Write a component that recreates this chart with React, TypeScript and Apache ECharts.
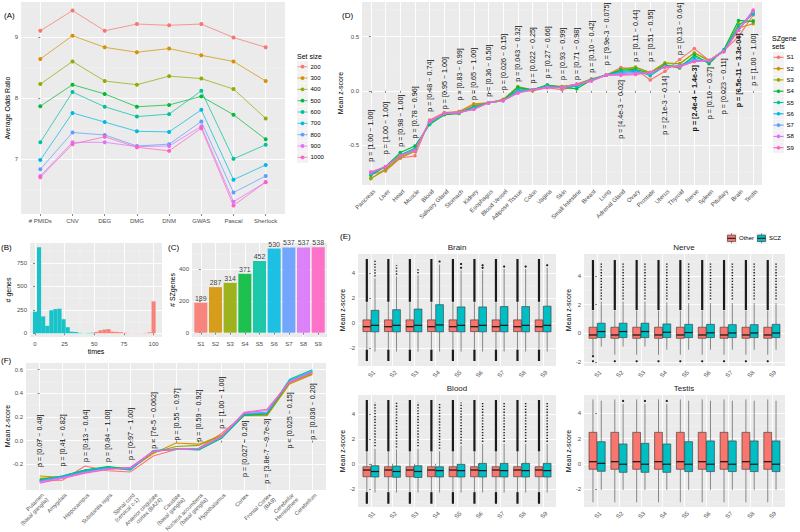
import React, { useEffect, useRef } from 'react';
import * as echarts from 'echarts';

const FONT = '"Liberation Sans", Arial, Helvetica, sans-serif';
const TICK = '#4D4D4D';
const BG = '#EBEBEB';
const HUE9 = ['#F8766D', '#D39200', '#93AA00', '#00BA38', '#00C19F', '#00B9E3', '#619CFF', '#DB72FB', '#FF61C3'];
const RED = '#F8766D';
const TEAL = '#00BFC4';

// ---------------- Panel A ----------------
const aMethods = ['# PMIDs', 'CNV', 'DEG', 'DMG', 'DNM', 'GWAS', 'Pascal', 'Sherlock'];
const aSetSizes = ['200', '300', '400', '500', '600', '700', '800', '900', '1000'];
const aOR200 = [9.10, 9.43, 9.10, 9.21, 9.19, 9.21, 8.99, 8.83];
const aOR300 = [8.64, 9.02, 8.83, 8.75, 8.81, 8.70, 8.60, 8.28];
const aOR400 = [8.23, 8.60, 8.28, 8.22, 8.36, 8.32, 8.15, 7.67];
const aOR500 = [7.87, 8.22, 8.07, 7.86, 7.89, 8.03, 7.73, 7.33];
const aOR600 = [7.28, 8.10, 7.86, 7.70, 7.74, 8.12, 7.01, 7.24];
const aOR700 = [6.99, 7.76, 7.61, 7.46, 7.45, 7.81, 6.67, 6.91];
const aOR800 = [6.84, 7.44, 7.40, 7.22, 7.25, 7.62, 6.46, 6.73];
const aOR900 = [6.73, 7.28, 7.28, 7.21, 7.22, 7.54, 6.31, 6.63];
const aOR1000 = [6.71, 7.25, 7.37, 7.20, 7.14, 7.51, 6.25, 6.63];
const aSeries = [aOR200, aOR300, aOR400, aOR500, aOR600, aOR700, aOR800, aOR900, aOR1000];

// ---------------- Panel B ----------------
const bBinWidth = 100 / 29;
const bCountsLow = [230, 915, 180, 80, 245, 258, 262, 150, 65, 18, 14, 5, 2, 4, 6]; // bins 0..14
const bCountsHigh = [14, 32, 40, 45, 18, 15, 12, 6, 3, 2, 3, 2, 4, 10, 340]; // bins 15..29

// ---------------- Panel C ----------------
const cSets = ['S1', 'S2', 'S3', 'S4', 'S5', 'S6', 'S7', 'S8', 'S9'];
const cCounts = [189, 287, 314, 371, 452, 530, 537, 537, 538];

// ---------------- Panel D ----------------
const dTissues = ['Pancreas', 'Liver', 'Heart', 'Muscle', 'Blood', 'Salivary Gland', 'Stomach', 'Kidney', 'Esophagus',
  'Blood Vessel', 'Adipose Tissue', 'Colon', 'Vagina', 'Skin', 'Small Intestine', 'Breast', 'Lung', 'Adrenal Gland',
  'Ovary', 'Prostate', 'Uterus', 'Thyroid', 'Nerve', 'Spleen', 'Pituitary', 'Brain', 'Testis'];
const dS1 = [-0.77, -0.74, -0.62, -0.60, -0.27, -0.20, -0.19, -0.13, -0.11, -0.08, 0.00, 0.00, 0.03, 0.01, 0.05, 0.10, 0.145, 0.215, 0.20, 0.10, 0.18, 0.29, 0.39, 0.28, 0.37, 0.50, 0.70];
const dS2 = [-0.81, -0.73, -0.62, -0.56, -0.28, -0.21, -0.19, -0.12, -0.11, -0.08, 0.03, 0.00, 0.05, 0.04, 0.06, 0.11, 0.145, 0.20, 0.21, 0.17, 0.25, 0.25, 0.35, 0.28, 0.37, 0.58, 0.62];
const dS3 = [-0.81, -0.72, -0.61, -0.55, -0.29, -0.21, -0.20, -0.14, -0.11, -0.08, 0.04, 0.01, 0.05, 0.04, 0.06, 0.11, 0.145, 0.20, 0.22, 0.17, 0.26, 0.25, 0.35, 0.28, 0.37, 0.62, 0.65];
const dS4 = [-0.78, -0.70, -0.57, -0.51, -0.31, -0.22, -0.21, -0.15, -0.11, -0.09, 0.03, 0.01, 0.055, 0.03, 0.02, 0.10, 0.145, 0.19, 0.20, 0.16, 0.24, 0.21, 0.33, 0.25, 0.38, 0.65, 0.64];
const dS5 = [-0.77, -0.70, -0.59, -0.53, -0.30, -0.21, -0.20, -0.15, -0.11, -0.09, 0.01, 0.01, 0.05, 0.03, 0.04, 0.10, 0.145, 0.18, 0.19, 0.14, 0.23, 0.23, 0.31, 0.27, 0.37, 0.60, 0.71];
const dS6 = [-0.76, -0.70, -0.60, -0.54, -0.29, -0.21, -0.20, -0.16, -0.11, -0.09, 0.00, 0.01, 0.04, 0.03, 0.05, 0.10, 0.145, 0.17, 0.18, 0.16, 0.22, 0.23, 0.29, 0.27, 0.37, 0.57, 0.72];
const dS7 = [-0.76, -0.70, -0.60, -0.55, -0.29, -0.21, -0.20, -0.17, -0.11, -0.09, -0.01, 0.01, 0.035, 0.03, 0.06, 0.10, 0.145, 0.16, 0.17, 0.16, 0.22, 0.23, 0.28, 0.28, 0.37, 0.56, 0.73];
const dS8 = [-0.75, -0.70, -0.60, -0.55, -0.28, -0.21, -0.20, -0.17, -0.11, -0.09, -0.02, 0.01, 0.03, 0.03, 0.06, 0.09, 0.145, 0.15, 0.16, 0.17, 0.22, 0.23, 0.27, 0.28, 0.36, 0.56, 0.74];
const dS9 = [-0.75, -0.70, -0.60, -0.55, -0.28, -0.21, -0.20, -0.17, -0.11, -0.09, -0.02, 0.01, 0.03, 0.03, 0.06, 0.09, 0.145, 0.145, 0.15, 0.17, 0.22, 0.22, 0.27, 0.28, 0.36, 0.56, 0.745];
const dSeries = [dS1, dS2, dS3, dS4, dS5, dS6, dS7, dS8, dS9];
const dPText = ['p = [1.00 ~ 1.00]', 'p = [1.00 ~ 1.00]', 'p = [0.98 ~ 1.00]', 'p = [0.78 ~ 0.96]', 'p = [0.48 ~ 0.74]',
  'p = [0.95 ~ 1.00]', 'p = [0.83 ~ 0.99]', 'p = [0.65 ~ 1.00]', 'p = [0.36 ~ 0.50]', 'p = [0.026 ~ 0.15]',
  'p = [0.043 ~ 0.32]', 'p = [0.022 ~ 0.25]', 'p = [0.27 ~ 0.66]', 'p = [0.93 ~ 0.99]', 'p = [0.71 ~ 0.98]',
  'p = [0.10 ~ 0.42]', 'p = [9.9e-3 ~ 0.075]', 'p = [4.4e-3 ~ 0.02]', 'p = [0.11 ~ 0.44]', 'p = [0.51 ~ 0.95]',
  'p = [2.1e-3 ~ 0.14]', 'p = [0.13 ~ 0.64]', 'p = [2.4e-4 ~ 1.4e-3]', 'p = [0.10 ~ 0.37]', 'p = [0.023 ~ 0.11]',
  'p = [6.5e-11 ~ 3.3e-04]', 'p = [1.00 ~ 1.00]'];
const dPY = [-0.655, -0.585, -0.517, -0.44, -0.194, -0.17, -0.09, -0.085, -0.055, 0.006, 0.083, 0.068, 0.114, 0.099,
  0.10, 0.166, 0.237, 0.099, 0.268, 0.268, 0.136, 0.33, 0.237, 0.22, 0.30, 0.53, 0.53];
const dPUp = [1, 1, 1, 1, 1, 1, 1, 1, 1, 1, 1, 1, 1, 1, 1, 1, 1, 0, 1, 1, 0, 1, 0, 0, 0, 0, 0];
const dPBold = [22, 25];

// ---------------- Panel E ----------------
// box rows: [lower whisker, Q1, median, Q3, upper whisker]
const brainOther = [-2.1, -0.7, -0.31, 0.235, 1.64];
const brainOtherOutLow = [-3.05, -2.14];
const brainOtherOutHigh = [1.68, 5.1];
const brainSczQ1 = [-0.72, -0.72, -0.72, -0.72, -0.72, -0.72, -0.72, -0.72, -0.72];
const brainSczMed = [-0.2, -0.2, -0.2, -0.17, -0.2, -0.2, -0.2, -0.2, -0.2];
const brainSczQ3 = [1.0, 1.05, 1.1, 1.45, 1.27, 1.27, 1.3, 1.3, 1.33];
const brainSczLow = [-2.3, -2.3, -2.3, -2.3, -2.3, -2.3, -2.3, -2.3, -2.3];
const brainSczHigh = [3.55, 3.7, 3.8, 4.65, 4.2, 4.2, 4.3, 4.3, 4.4];
const brainSczOutBand: (number[] | null)[] = [[3.7, 5.0], [3.85, 4.6], [3.95, 4.3], null, null, null, null, null, null];
const brainSczOutPts = [[], [], [], [4.9], [4.4, 4.7], [4.4, 4.6], [4.5], [4.5], [4.6]];

const nerveOther = [-1.5, -0.35, -0.12, 0.42, 1.58];
const nerveOtherOutHigh = [1.62, 5.1];
const nerveOtherOutPts = [[-1.6, -1.95], [-1.95], [-1.95], [-1.95], [-1.95], [-1.95], [-1.95], [-1.95], [-1.95]];
const nerveSczQ1 = [-0.3, -0.3, -0.3, -0.3, -0.3, -0.3, -0.3, -0.3, -0.3];
const nerveSczMed = [0.12, 0.12, 0.12, 0.07, 0.05, 0.03, 0.02, 0.02, 0.02];
const nerveSczQ3 = [0.70, 0.70, 0.70, 0.65, 0.62, 0.62, 0.60, 0.60, 0.62];
const nerveSczLow = [-0.93, -0.93, -0.93, -1.15, -1.15, -1.15, -1.15, -1.15, -1.15];
const nerveSczHigh = [2.2, 2.2, 2.2, 2.15, 2.1, 2.1, 2.1, 2.1, 2.1];
const nerveSczOutBand = [2.35, 4.95];

const bloodOther = [-2.24, -1.04, -0.5, -0.24, 0.96];
const bloodOtherOutLow = [-3.2, -2.27];
const bloodOtherOutHigh = [0.99, 5.1];
const bloodSczQ1 = [-1.06, -1.08, -1.1, -1.06, -1.06, -1.06, -1.06, -1.06, -1.06];
const bloodSczMed = [-0.62, -0.62, -0.62, -0.55, -0.55, -0.55, -0.55, -0.55, -0.55];
const bloodSczQ3 = [-0.16, -0.19, -0.16, -0.24, -0.05, 0.03, 0.03, 0.03, 0.03];
const bloodSczLow = [-2.3, -2.3, -2.3, -2.3, -2.3, -2.3, -2.3, -2.3, -2.3];
const bloodSczHigh = [1.2, 1.15, 1.2, 1.0, 1.45, 1.6, 1.6, 1.6, 1.6];
const bloodSczOutBand = [[1.4, 4.9], [1.3, 4.9], [1.4, 4.9], [1.2, 4.9], [1.6, 4.9], [1.75, 4.9], [1.75, 4.9], [1.75, 4.9], [1.75, 4.9]];

const testisOther = [-3.03, -0.42, 0.18, 2.5, 5.1];
const testisSczQ1 = [-0.58, -0.66, -0.66, -0.66, -0.6, -0.6, -0.6, -0.6, -0.6];
const testisSczMed = [0.05, -0.02, -0.02, -0.02, -0.02, -0.02, -0.02, -0.02, -0.02];
const testisSczQ3 = [1.76, 1.58, 1.63, 1.58, 1.76, 1.82, 1.82, 1.82, 1.82];
const testisSczLow = [-2.05, -2.05, -2.05, -2.05, -2.05, -2.05, -2.05, -2.05, -2.05];
const testisSczHigh = [5.0, 4.75, 4.75, 4.75, 5.0, 5.0, 5.0, 5.0, 5.0];
const testisSczOutPts = [[], [4.98], [4.98], [4.98], [], [], [], [], []];

// ---------------- Panel F ----------------
const fRegions = ['Putamen\n(basal ganglia)', 'Amygdala', 'Hippocampus', 'Substantia nigra', 'Spinal cord\n(cervical c-1)',
  'Anterior cingulate\ncortex (BA24)', 'Caudate\n(basal ganglia)', 'Nucleus accumbens\n(basal ganglia)', 'Hypothalamus',
  'Cortex', 'Frontal Cortex\n(BA9)', 'Cerebellar\nHemisphere', 'Cerebellum'];
const fS1 = [-0.34, -0.335, -0.215, -0.255, -0.265, -0.13, -0.075, -0.065, 0.06, 0.22, 0.22, 0.49, 0.57];
const fS2 = [-0.30, -0.31, -0.25, -0.235, -0.24, -0.11, -0.02, -0.03, 0.045, 0.21, 0.21, 0.48, 0.56];
const fS3 = [-0.32, -0.31, -0.25, -0.225, -0.235, -0.10, -0.05, -0.04, 0.04, 0.215, 0.215, 0.49, 0.565];
const fS4 = [-0.33, -0.30, -0.25, -0.22, -0.24, -0.09, -0.07, -0.08, 0.02, 0.215, 0.225, 0.50, 0.58];
const fS5 = [-0.335, -0.30, -0.25, -0.225, -0.25, -0.085, -0.075, -0.075, 0.02, 0.22, 0.23, 0.52, 0.60];
const fS6 = [-0.34, -0.305, -0.26, -0.23, -0.245, -0.085, -0.075, -0.07, 0.03, 0.225, 0.235, 0.51, 0.59];
const fS7 = [-0.345, -0.31, -0.265, -0.235, -0.24, -0.09, -0.075, -0.07, 0.03, 0.23, 0.24, 0.505, 0.585];
const fS8 = [-0.35, -0.315, -0.27, -0.24, -0.23, -0.09, -0.075, -0.065, 0.035, 0.235, 0.255, 0.50, 0.58];
const fS9 = [-0.36, -0.32, -0.275, -0.245, -0.225, -0.09, -0.075, -0.065, 0.035, 0.24, 0.265, 0.495, 0.575];
const fSeries = [fS1, fS2, fS3, fS4, fS5, fS6, fS7, fS8, fS9];
const fPText = ['p = [0.07 ~ 0.48]', 'p = [0.41 ~ 0.82]', 'p = [0.13 ~ 0.64]', 'p = [0.94 ~ 1.00]', 'p = [0.97 ~ 1.00]',
  'p = [7e-5 ~ 0.062]', 'p = [0.55 ~ 0.97]', 'p = [0.59 ~ 0.92]', 'p = [1.00 ~ 1.00]', 'p = [0.027 ~ 0.26]',
  'p = [3.8e-7 ~ 9.7e-3]', 'p = [0.025 ~ 0.15]', 'p = [0.036 ~ 0.20]'];
const fPY = [-0.223, -0.22, -0.18, -0.18, -0.165, -0.068, 0.0, -0.01, 0.10, 0.17, 0.186, 0.41, 0.485];
const fPUp = [1, 1, 1, 1, 1, 1, 1, 1, 1, 0, 0, 0, 0];

// ------------------------------------------------
const idx = (n: number) => Array.from({ length: n }, (_, i) => i);

type Box = { s: number; g: number; v: number[]; bands: number[][]; dotted: boolean; pts: number[] };

function buildOption() {
  const xAxes: any[] = [];
  const yAxes: any[] = [];

  function addAxis(list: any[], kind: 'x' | 'y', grid: number, min: number, max: number, majors: number[], minors: number[],
    fmt: (v: number) => string, extra: any = {}) {
    const id = list.length;
    list.push({
      type: 'value', gridIndex: grid, min, max, position: kind === 'x' ? 'bottom' : 'left',
      axisLine: { show: false },
      axisTick: { show: true, length: 2, lineStyle: { color: '#333333', width: 0.6 }, customValues: majors },
      axisLabel: { show: true, customValues: majors, formatter: (v: number) => fmt(v), fontSize: 6, color: TICK,
        fontFamily: FONT, margin: 3, ...extra },
      splitLine: { show: true, lineStyle: { color: '#FFFFFF', width: 0.9 } },
    });
    if (minors.length) {
      list.push({
        type: 'value', gridIndex: grid, min, max, position: kind === 'x' ? 'top' : 'right',
        axisLine: { show: false },
        axisTick: { show: false, customValues: minors },
        axisLabel: { show: false, customValues: minors },
        splitLine: { show: true, lineStyle: { color: '#F7F7F7', width: 0.45 } },
      });
    }
    return id;
  }
  const disc = (grid: number, labels: string[], extra: any = {}) =>
    addAxis(xAxes, 'x', grid, -0.6, labels.length - 0.4, idx(labels.length), [], (v) => labels[Math.round(v)] ?? '', extra);
  const num = (v: number) => String(v);
  const f1 = (v: number) => v.toFixed(1);

  const grids = [
    { left: 21, top: 2, width: 264, height: 212 },
    { left: 30, top: 243, width: 132, height: 94 },
    { left: 192, top: 243, width: 135, height: 94 },
    { left: 362, top: 2, width: 400, height: 183 },
    { left: 358, top: 254, width: 198, height: 112 },
    { left: 584, top: 254, width: 201, height: 112 },
    { left: 358, top: 395, width: 198, height: 112 },
    { left: 584, top: 395, width: 201, height: 112 },
    { left: 26, top: 363, width: 300, height: 127 },
  ].map((g) => ({ ...g, show: true, backgroundColor: BG, borderWidth: 0, containLabel: false, outerBoundsMode: 'none' }));

  const hid = { show: false };
  // axes
  const axAx = disc(0, aMethods, { margin: 4 });
  const axAy = addAxis(yAxes, 'y', 0, 6.11, 9.57, [7, 8, 9], [6.5, 7.5, 8.5, 9.5], num);
  const axBx = addAxis(xAxes, 'x', 1, -4.2, 107.1, [0, 25, 50, 75, 100], [12.5, 37.5, 62.5, 87.5], num, { margin: 4 });
  const axBy = addAxis(yAxes, 'y', 1, -39, 960, [0, 250, 500, 750], [125, 375, 625, 875], num);
  const axCx = disc(2, cSets, { margin: 4 });
  const axCy = addAxis(yAxes, 'y', 2, -27, 565, [0, 200, 400], [100, 300, 500], num);
  const axDx = disc(3, dTissues, hid);
  const dMin = -0.869;
  const axDy = addAxis(yAxes, 'y', 3, dMin, 0.82, [-0.5, 0, 0.5], [-0.75, -0.25, 0.25, 0.75], f1);
  const eRanges = [[-3.45, 5.5], [-2.28, 5.52], [-3.46, 5.5], [-3.4, 5.45]];
  const eMinors = [[-3, -1, 1, 3, 5], [-1, 1, 3, 5], [-3, -1, 1, 3, 5], [-3, -1, 1, 3, 5]];
  const axEx: number[] = [];
  const axEy: number[] = [];
  for (let k = 0; k < 4; k++) {
    axEx.push(disc(4 + k, cSets, hid));
    axEy.push(addAxis(yAxes, 'y', 4 + k, eRanges[k][0], eRanges[k][1], [-2, 0, 2, 4], eMinors[k], num));
  }
  const axFx = disc(8, fRegions, hid);
  const fMin = -0.418;
  const axFy = addAxis(yAxes, 'y', 8, fMin, 0.657, [-0.2, 0, 0.2, 0.4, 0.6], [-0.3, -0.1, 0.1, 0.3, 0.5], f1);

  const series: any[] = [];

  // rotated tick labels (45 degrees), anchored at the tick positions of the axis
  const rotLabels = (xi: number, yi: number, labels: string[], yMin: number, fs = 6, dy = 3, lh = 6.8) => ({
    type: 'custom', xAxisIndex: xi, yAxisIndex: yi, silent: true, clip: false,
    data: labels.map((_, i) => [i, yMin]),
    renderItem: (params: any, api: any) => {
      const p = api.coord([api.value(0), api.value(1)]);
      return {
        type: 'text', x: p[0] + 1, y: p[1] + dy, rotation: Math.PI / 4,
        style: { text: labels[params.dataIndex], align: 'right', verticalAlign: 'top', fontSize: fs, fill: TICK,
          fontFamily: FONT, lineHeight: lh },
      };
    },
  });

  // A lines
  aSeries.forEach((vals, i) => {
    series.push({
      type: 'line', name: aSetSizes[i], xAxisIndex: axAx, yAxisIndex: axAy, silent: true,
      data: vals.map((v, j) => [j, v]), symbol: 'circle', symbolSize: 4, showSymbol: true,
      lineStyle: { width: 0.9, color: HUE9[i], opacity: 0.8 }, itemStyle: { color: HUE9[i] },
    });
  });

  // B histogram
  const histSeries = (counts: number[], offset: number, color: string) => ({
    type: 'custom', xAxisIndex: axBx, yAxisIndex: axBy, silent: true,
    data: counts.map((c, k) => [(k + offset) * bBinWidth, c]),
    renderItem: (params: any, api: any) => {
      const c = api.value(0);
      const h = api.value(1);
      const p0 = api.coord([c - bBinWidth / 2, h]);
      const p1 = api.coord([c + bBinWidth / 2, 0]);
      return { type: 'rect', shape: { x: p0[0], y: p0[1], width: p1[0] - p0[0], height: p1[1] - p0[1] },
        style: { fill: color, opacity: 0.9 } };
    },
  });
  series.push(histSeries(bCountsLow, 0, TEAL));
  series.push(histSeries(bCountsHigh, 15, RED));

  // C bars
  series.push({
    type: 'bar', xAxisIndex: axCx, yAxisIndex: axCy, silent: true, barWidth: 13,
    data: cCounts.map((v, j) => ({ value: [j, v], itemStyle: { color: HUE9[j], opacity: 0.88 } })),
    label: { show: true, position: 'top', distance: 1, fontSize: 7, color: '#222', fontFamily: FONT,
      formatter: (p: any) => String(p.value[1]) },
  });

  // D lines
  dSeries.forEach((vals, i) => {
    series.push({
      type: 'line', name: cSets[i], xAxisIndex: axDx, yAxisIndex: axDy, silent: true,
      data: vals.map((v, j) => [j, v]), symbol: 'circle', symbolSize: 3.5,
      lineStyle: { width: 1.1, color: HUE9[i] }, itemStyle: { color: HUE9[i] },
    });
  });
  series.push(rotLabels(axDx, axDy, dTissues, dMin));

  const pSeries = (xi: number, yi: number, texts: string[], ys: number[], up: number[], bold: number[]) => ({
    type: 'custom', xAxisIndex: xi, yAxisIndex: yi, silent: true, z: 6,
    data: ys.map((y, i) => [i, y]),
    renderItem: (params: any, api: any) => {
      const i = params.dataIndex;
      const p = api.coord([api.value(0), api.value(1)]);
      return {
        type: 'text', x: p[0], y: p[1], rotation: Math.PI / 2,
        style: { text: texts[i], align: up[i] ? 'left' : 'right', verticalAlign: 'middle', fontSize: 7.2,
          fontFamily: FONT, fill: '#111', fontWeight: bold.includes(i) ? 'bold' : 'normal' },
      };
    },
  });
  series.push(pSeries(axDx, axDy, dPText, dPY, dPUp, dPBold));

  // E boxes
  const boxSeries = (xi: number, yi: number, boxes: Box[]) => ({
    type: 'custom', xAxisIndex: xi, yAxisIndex: yi, silent: true,
    data: boxes.map((b) => [b.s + (b.g ? 0.19 : -0.19), ...b.v]),
    renderItem: (params: any, api: any) => {
      const b = boxes[params.dataIndex];
      const cx = api.value(0);
      const lw = api.value(1), q1 = api.value(2), md = api.value(3), q3 = api.value(4), hw = api.value(5);
      const half = 0.18;
      const c = (x: number, y: number) => api.coord([x, y]);
      const ch: any[] = [];
      const wStyle = { stroke: '#444', lineWidth: 0.6 };
      const a = c(cx, lw), pq1 = c(cx, q1), pq3 = c(cx, q3), ph = c(cx, hw);
      ch.push({ type: 'line', shape: { x1: a[0], y1: a[1], x2: pq1[0], y2: pq1[1] }, style: wStyle });
      ch.push({ type: 'line', shape: { x1: pq3[0], y1: pq3[1], x2: ph[0], y2: ph[1] }, style: wStyle });
      b.bands.forEach((bd) => {
        const u = c(cx, bd[0]), w = c(cx, bd[1]);
        ch.push({ type: 'line', shape: { x1: u[0], y1: u[1], x2: w[0], y2: w[1] },
          style: b.dotted ? { stroke: '#222', lineWidth: 1.5, lineDash: [1.3, 1.6] } : { stroke: '#1a1a1a', lineWidth: 2.2 } });
      });
      b.pts.forEach((pv) => {
        const q = c(cx, pv);
        ch.push({ type: 'circle', shape: { cx: q[0], cy: q[1], r: 1.1 }, style: { fill: '#1a1a1a' } });
      });
      const tl = c(cx - half, q3), br = c(cx + half, q1);
      ch.push({ type: 'rect', shape: { x: tl[0], y: tl[1], width: br[0] - tl[0], height: br[1] - tl[1] },
        style: { fill: b.g ? TEAL : RED, stroke: '#333', lineWidth: 0.6 } });
      const ml = c(cx - half, md), mr = c(cx + half, md);
      ch.push({ type: 'line', shape: { x1: ml[0], y1: ml[1], x2: mr[0], y2: mr[1] }, style: { stroke: '#111', lineWidth: 1.2 } });
      return { type: 'group', children: ch };
    },
  });

  const mk = (s: number, g: number, v: number[], bands: (number[] | null)[], dotted: boolean, pts: number[]): Box =>
    ({ s, g, v, bands: bands.filter((x) => !!x) as number[][], dotted, pts });

  const brainBoxes: Box[] = [];
  const nerveBoxes: Box[] = [];
  const bloodBoxes: Box[] = [];
  const testisBoxes: Box[] = [];
  for (let s = 0; s < 9; s++) {
    brainBoxes.push(mk(s, 0, brainOther, [brainOtherOutLow, brainOtherOutHigh], false, []));
    brainBoxes.push(mk(s, 1, [brainSczLow[s], brainSczQ1[s], brainSczMed[s], brainSczQ3[s], brainSczHigh[s]],
      [brainSczOutBand[s]], true, brainSczOutPts[s]));
    nerveBoxes.push(mk(s, 0, nerveOther, [nerveOtherOutHigh], false, nerveOtherOutPts[s]));
    nerveBoxes.push(mk(s, 1, [nerveSczLow[s], nerveSczQ1[s], nerveSczMed[s], nerveSczQ3[s], nerveSczHigh[s]],
      [nerveSczOutBand], true, []));
    bloodBoxes.push(mk(s, 0, bloodOther, [bloodOtherOutLow, bloodOtherOutHigh], false, []));
    bloodBoxes.push(mk(s, 1, [bloodSczLow[s], bloodSczQ1[s], bloodSczMed[s], bloodSczQ3[s], bloodSczHigh[s]],
      [bloodSczOutBand[s]], true, []));
    testisBoxes.push(mk(s, 0, testisOther, [], false, []));
    testisBoxes.push(mk(s, 1, [testisSczLow[s], testisSczQ1[s], testisSczMed[s], testisSczQ3[s], testisSczHigh[s]],
      [], false, testisSczOutPts[s]));
  }
  const allBoxes = [brainBoxes, nerveBoxes, bloodBoxes, testisBoxes];
  for (let k = 0; k < 4; k++) {
    series.push(boxSeries(axEx[k], axEy[k], allBoxes[k]));
    series.push(rotLabels(axEx[k], axEy[k], cSets, eRanges[k][0]));
  }

  // F lines
  fSeries.forEach((vals, i) => {
    series.push({
      type: 'line', name: cSets[i], xAxisIndex: axFx, yAxisIndex: axFy, silent: true,
      data: vals.map((v, j) => [j, v]), symbol: 'none', lineStyle: { width: 1.1, color: HUE9[i] },
    });
  });
  series.push(pSeries(axFx, axFy, fPText, fPY, fPUp, []));
  series.push(rotLabels(axFx, axFy, fRegions, fMin, 5.6, 2, 6.2));

  // graphics
  const T = (x: number, y: number, text: string, o: any = {}) => ({
    type: 'text', x, y, rotation: o.rot ? Math.PI / 2 : 0, silent: true,
    style: { text, fontSize: o.fs ?? 7, fill: o.fill ?? '#000', fontFamily: FONT, align: o.align ?? 'left',
      verticalAlign: 'middle', fontWeight: o.fw ?? 'normal' },
  });
  const g: any[] = [];
  g.push(T(4, 15, '(A)', { fs: 8 }));
  g.push(T(1, 247, '(B)', { fs: 8 }));
  g.push(T(168, 247, '(C)', { fs: 8 }));
  g.push(T(342, 15, '(D)', { fs: 8 }));
  g.push(T(340, 236, '(E)', { fs: 8 }));
  g.push(T(1, 360, '(F)', { fs: 8 }));
  g.push(T(7, 108, 'Average Odds Ratio', { rot: 1, align: 'center' }));
  g.push(T(8, 290, '# genes', { rot: 1, align: 'center' }));
  g.push(T(96, 351, 'times', { align: 'center' }));
  g.push(T(172, 290, '# SZgenes', { rot: 1, align: 'center' }));
  g.push(T(340, 93, 'Mean z-score', { rot: 1, align: 'center' }));
  g.push(T(342, 310, 'Mean z-score', { rot: 1, align: 'center' }));
  g.push(T(342, 451, 'Mean z-score', { rot: 1, align: 'center' }));
  g.push(T(568, 310, 'Mean z-score', { rot: 1, align: 'center' }));
  g.push(T(568, 451, 'Mean z-score', { rot: 1, align: 'center' }));
  g.push(T(7, 426, 'Mean z-score', { rot: 1, align: 'center' }));
  g.push(T(457, 247.5, 'Brain', { fs: 8, align: 'center', fill: '#1a1a1a' }));
  g.push(T(684, 247.5, 'Nerve', { fs: 8, align: 'center', fill: '#1a1a1a' }));
  g.push(T(457, 388, 'Blood', { fs: 8, align: 'center', fill: '#1a1a1a' }));
  g.push(T(684, 388, 'Testis', { fs: 8, align: 'center', fill: '#1a1a1a' }));

  // legend A
  g.push(T(297, 56, 'Set size', { fs: 7 }));
  aSetSizes.forEach((lab, i) => {
    const y = 66.7 + i * 11.33;
    g.push({ type: 'rect', shape: { x: 297, y: y - 5.5, width: 11, height: 11 }, style: { fill: '#F2F2F2' }, silent: true });
    g.push({ type: 'line', shape: { x1: 297.5, y1: y, x2: 307.5, y2: y }, style: { stroke: HUE9[i], lineWidth: 0.9, opacity: 0.8 }, silent: true });
    g.push({ type: 'circle', shape: { cx: 302.5, cy: y, r: 1.9 }, style: { fill: HUE9[i] }, silent: true });
    g.push(T(310.5, y, lab, { fs: 6 }));
  });
  // legend D
  g.push(T(772, 38, 'SZgene', { fs: 7 }));
  g.push(T(772, 46.5, 'sets', { fs: 7 }));
  cSets.forEach((lab, i) => {
    const y = 57.3 + i * 11.3;
    g.push({ type: 'rect', shape: { x: 773, y: y - 5.5, width: 11, height: 11 }, style: { fill: '#F2F2F2' }, silent: true });
    g.push({ type: 'line', shape: { x1: 773.5, y1: y, x2: 783.5, y2: y }, style: { stroke: HUE9[i], lineWidth: 1.1 }, silent: true });
    g.push({ type: 'circle', shape: { cx: 778.5, cy: y, r: 1.8 }, style: { fill: HUE9[i] }, silent: true });
    g.push(T(786.5, y, lab, { fs: 6 }));
  });
  // legend E
  const eLeg = [['Other', RED, 726], ['SCZ', TEAL, 756]] as const;
  eLeg.forEach(([lab, col, x]) => {
    const y = 238.3;
    g.push({ type: 'rect', shape: { x, y: y - 5.5, width: 11, height: 11 }, style: { fill: '#F2F2F2' }, silent: true });
    g.push({ type: 'line', shape: { x1: x + 5.5, y1: y - 5, x2: x + 5.5, y2: y + 5 }, style: { stroke: '#444', lineWidth: 0.6 }, silent: true });
    g.push({ type: 'rect', shape: { x: x + 1.5, y: y - 3.2, width: 8, height: 6.4 }, style: { fill: col, stroke: '#333', lineWidth: 0.6 }, silent: true });
    g.push({ type: 'line', shape: { x1: x + 1.5, y1: y, x2: x + 9.5, y2: y }, style: { stroke: '#111', lineWidth: 1 }, silent: true });
    g.push(T(x + 13, y, lab, { fs: 6 }));
  });

  return {
    animation: false,
    backgroundColor: '#FFFFFF',
    textStyle: { fontFamily: FONT },
    grid: grids,
    xAxis: xAxes,
    yAxis: yAxes,
    series,
    graphic: g,
  };
}

export default function App() {
  const ref = useRef<HTMLDivElement>(null);
  useEffect(() => {
    if (!ref.current) return;
    const chart = echarts.init(ref.current, undefined, { renderer: 'svg' });
    chart.setOption(buildOption() as any);
    return () => chart.dispose();
  }, []);
  return <div ref={ref} style={{ position: 'absolute', left: 0, top: 0, width: 800, height: 532 }} />;
}
